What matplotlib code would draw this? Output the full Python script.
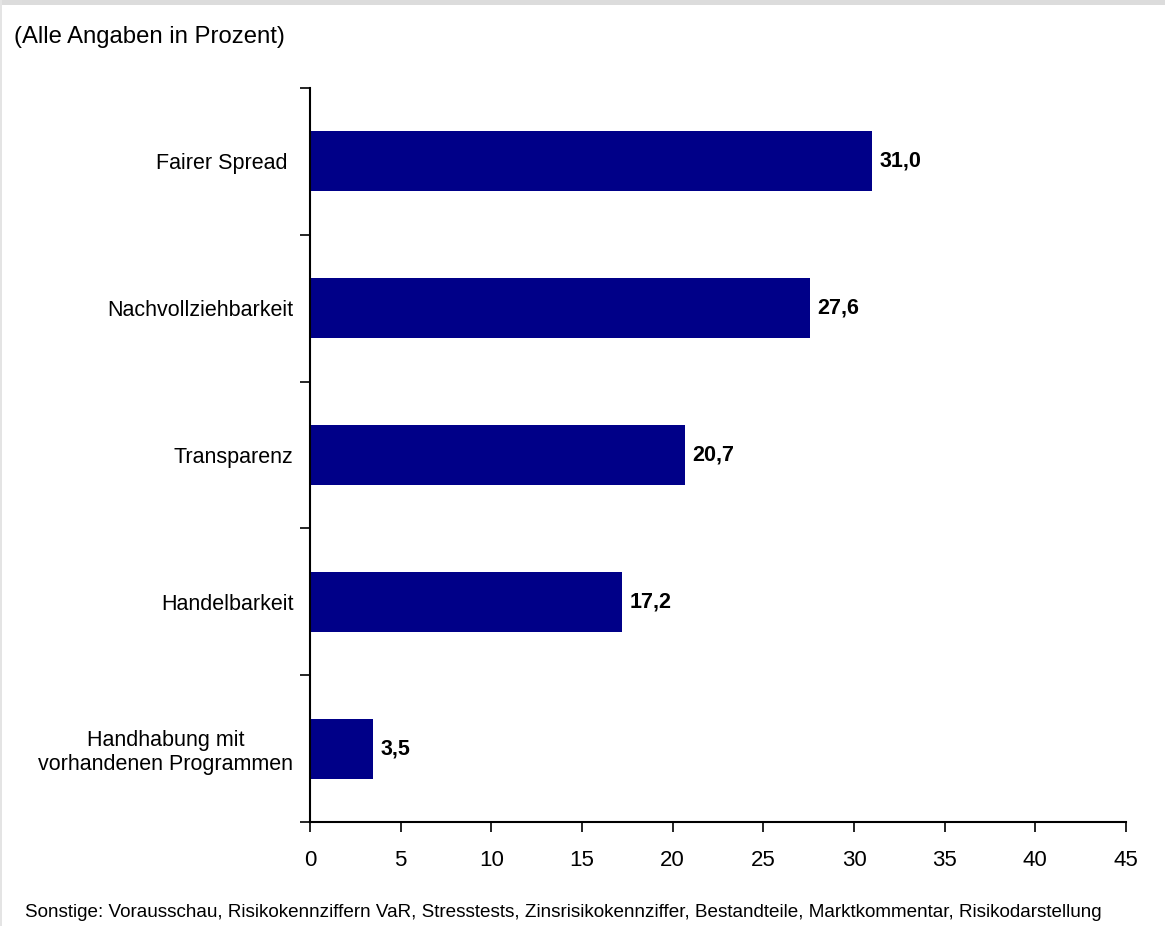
import matplotlib
matplotlib.use("Agg")
import matplotlib.pyplot as plt
from matplotlib.patches import Rectangle

plt.rcParams['font.family'] = ['Liberation Sans', 'DejaVu Sans']

categories = ["Fairer Spread ", "Nachvollziehbarkeit", "Transparenz",
              "Handelbarkeit", "Handhabung mit\nvorhandenen Programmen"]
values = [31.0, 27.6, 20.7, 17.2, 3.5]
value_labels = ["31,0", "27,6", "20,7", "17,2", "3,5"]
x_ticks = [0, 5, 10, 15, 20, 25, 30, 35, 40, 45]

W, H = 1165, 926
fig = plt.figure(figsize=(W / 100, H / 100), dpi=100)
fig.patch.set_facecolor("white")

# light frame: grey band on top, thin grey line on the left
fig.patches.append(Rectangle((0, 1 - 5 / H), 1, 5 / H, transform=fig.transFigure,
                             facecolor="#dcdcdc", edgecolor="none", zorder=0))
fig.patches.append(Rectangle((0, 0), 1.5 / W, 1, transform=fig.transFigure,
                             facecolor="#e4e4e4", edgecolor="none", zorder=0))

ax = fig.add_axes([310 / W, 1 - 822 / H, (1126 - 310) / W, (822 - 88) / H])

n = len(categories)
ypos = list(range(n))
ax.barh(ypos, values, height=0.41, color="#000088", edgecolor="none", zorder=2)

for y, v, lab in zip(ypos, values, value_labels):
    ax.text(v + 0.4, y, lab, va="center", ha="left", fontsize=15.5,
            fontweight="bold", color="black")

ax.set_xlim(0, 45)
ax.set_ylim(n - 0.5, -0.5)
ax.set_xticks(x_ticks)
ax.set_xticklabels([str(t) for t in x_ticks], fontsize=16)

# category boundaries carry the ticks, labels sit in the middle of each slot
ax.set_yticks([i - 0.5 for i in range(n + 1)])
ax.set_yticklabels([])
ax.set_yticks(ypos, minor=True)
ax.set_yticklabels(categories, minor=True, fontsize=15.5, ha="right",
                   multialignment="center")
ax.tick_params(axis="y", which="minor", length=0, pad=12)
ax.tick_params(axis="y", which="major", length=7, width=1.2, direction="out")
ax.tick_params(axis="x", length=7, width=1.2, direction="out", pad=13)

for side in ("top", "right"):
    ax.spines[side].set_visible(False)
for side in ("left", "bottom"):
    ax.spines[side].set_linewidth(1.5)

fig.text(14 / W, 1 - 37 / H, "(Alle Angaben in Prozent)", fontsize=17.2,
         ha="left", va="center")
fig.text(25 / W, 1 - 917 / H,
         "Sonstige: Vorausschau, Risikokennziffern VaR, Stresstests, Zinsrisikokennziffer, "
         "Bestandteile, Marktkommentar, Risikodarstellung",
         fontsize=13.6, ha="left", va="baseline")

fig.savefig("out.png", dpi=100)
